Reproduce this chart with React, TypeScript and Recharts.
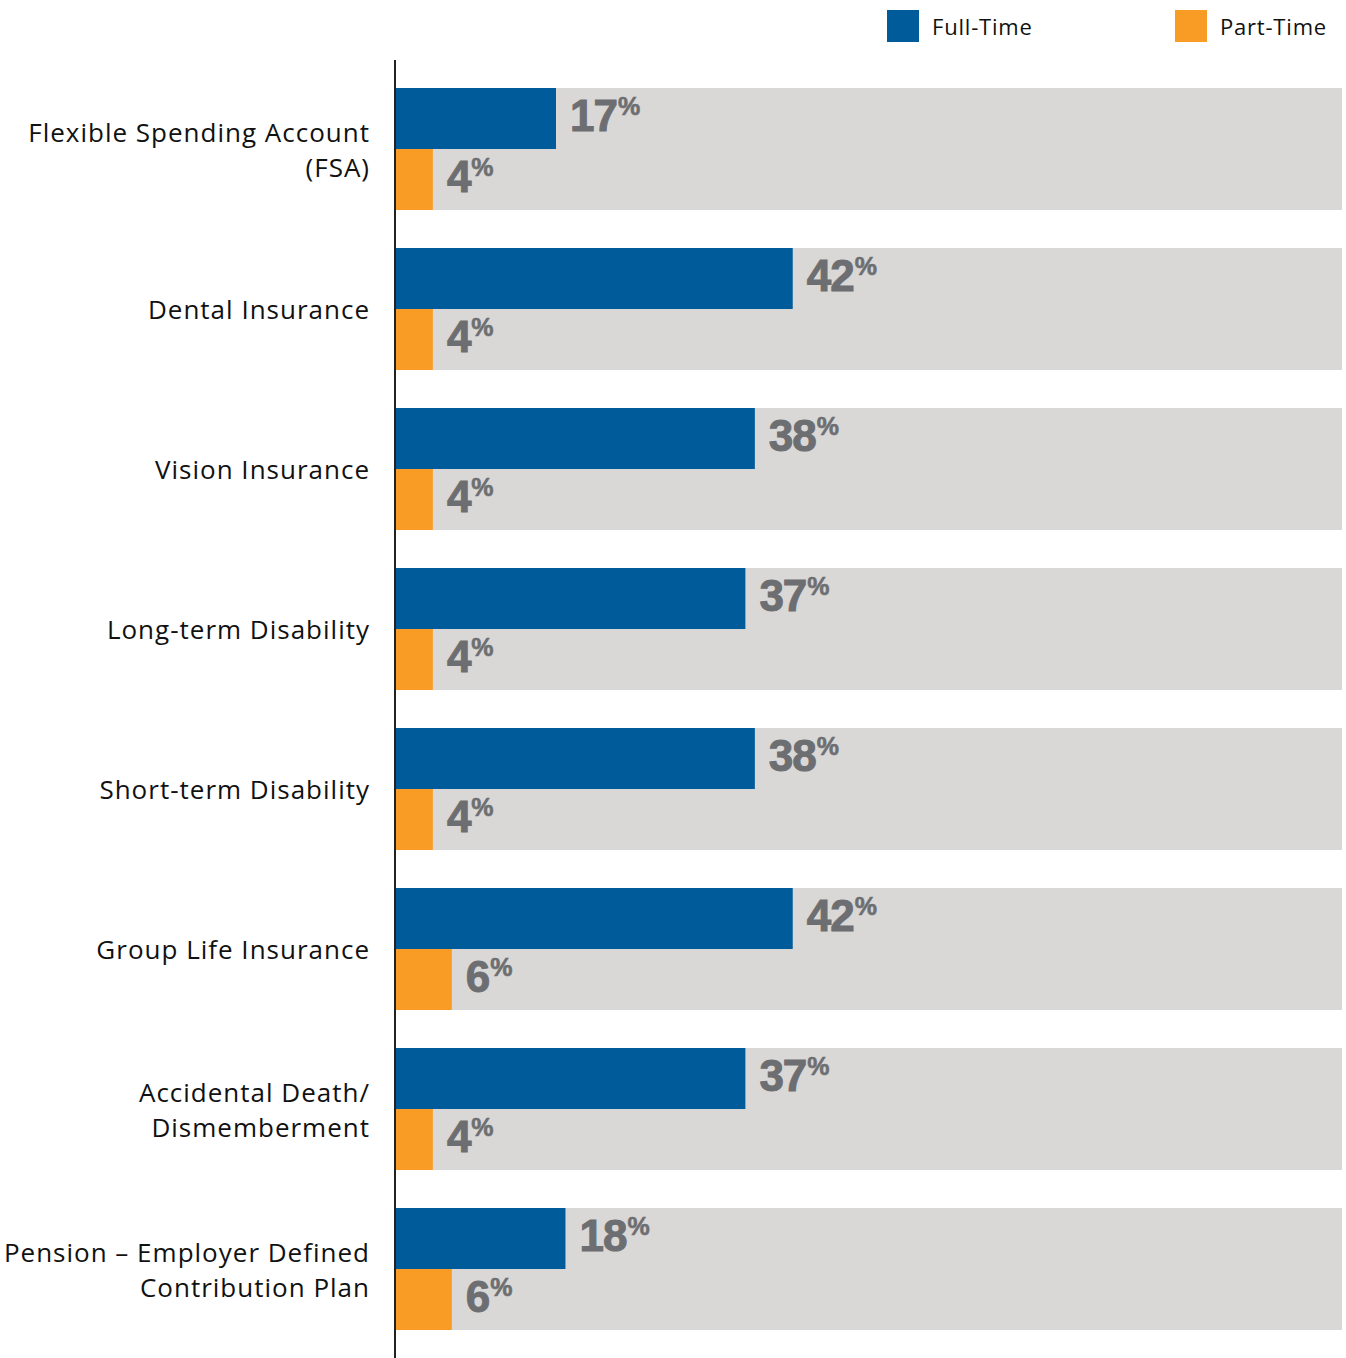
import React from 'react';
import { BarChart, Bar, XAxis, YAxis, LabelList } from 'recharts';

const categories = [
  'Flexible Spending Account\n(FSA)',
  'Dental Insurance',
  'Vision Insurance',
  'Long-term Disability',
  'Short-term Disability',
  'Group Life Insurance',
  'Accidental Death/\nDismemberment',
  'Pension – Employer Defined\nContribution Plan',
];
const fullTime = [17, 42, 38, 37, 38, 42, 37, 18];
const partTime = [4, 4, 4, 4, 4, 6, 4, 6];

const BLUE = '#005b9a';
const ORANGE = '#f89c25';
const TRACK = '#d9d8d6';
const LABEL_GREY = '#6d6e71';
const TEXT_FONT = "'Open Sans', Lato, sans-serif";
const NUM_FONT = "'Liberation Sans', Arial, sans-serif";

const data = categories.map((name, i) => ({
  name,
  full: fullTime[i],
  part: partTime[i],
}));

const CategoryTick = ({ x, y, payload }: any) => {
  const lines = String(payload.value).split('\n');
  const lineH = 35;
  const startY = y - ((lines.length - 1) * lineH) / 2;
  return (
    <text
      x={x}
      y={startY}
      textAnchor="end"
      dominantBaseline="central"
      fontFamily={TEXT_FONT}
      fontSize={26}
      letterSpacing={1}
      fill="#111"
    >
      {lines.map((line, i) => (
        <tspan key={i} x={x} y={startY + i * lineH} dominantBaseline="central">
          {line}
        </tspan>
      ))}
    </text>
  );
};

const PctLabel = (props: any) => {
  const { x, y, width, value } = props;
  const left = Number(x) + Number(width) + 14;
  return (
    <text
      x={left}
      y={Number(y) + 43}
      fill={LABEL_GREY}
      stroke={LABEL_GREY}
      strokeWidth={1}
      fontFamily={NUM_FONT}
      fontWeight="bold"
    >
      <tspan fontSize={44} letterSpacing={-1}>{value}</tspan>
      <tspan fontSize={25} dx={1} dy={-16} strokeWidth={0.6}>%</tspan>
    </text>
  );
};

const LegendItem = ({ color, label, left }: { color: string; label: string; left: number }) => (
  <div style={{ position: 'absolute', left, top: 10, display: 'flex', alignItems: 'center', height: 32 }}>
    <div style={{ width: 32, height: 32, background: color }} />
    <span style={{ marginLeft: 13, fontFamily: TEXT_FONT, fontSize: 22, letterSpacing: 0.8, color: '#111' }}>
      {label}
    </span>
  </div>
);

export default function App() {
  return (
    <div style={{ position: 'absolute', left: 0, top: 0, width: 1346, height: 1358, background: '#fff' }}>
      <LegendItem color={BLUE} label="Full-Time" left={887} />
      <LegendItem color={ORANGE} label="Part-Time" left={1175} />
      <BarChart
        width={1346}
        height={1358}
        data={data}
        layout="vertical"
        margin={{ top: 69, right: 4, bottom: 9, left: 0 }}
        barGap={0}
      >
        <XAxis type="number" domain={[0, 100]} hide />
        <YAxis
          type="category"
          dataKey="name"
          width={395}
          axisLine={false}
          tickLine={false}
          tick={<CategoryTick />}
          tickMargin={19}
          interval={0}
        />
        <Bar dataKey="full" fill={BLUE} barSize={61} background={{ fill: TRACK }} isAnimationActive={false}>
          <LabelList dataKey="full" content={<PctLabel />} />
        </Bar>
        <Bar dataKey="part" fill={ORANGE} barSize={61} background={{ fill: TRACK }} isAnimationActive={false}>
          <LabelList dataKey="part" content={<PctLabel />} />
        </Bar>
      </BarChart>
      <div style={{ position: 'absolute', left: 394, top: 60, width: 1.5, height: 1298, background: '#222' }} />
    </div>
  );
}
